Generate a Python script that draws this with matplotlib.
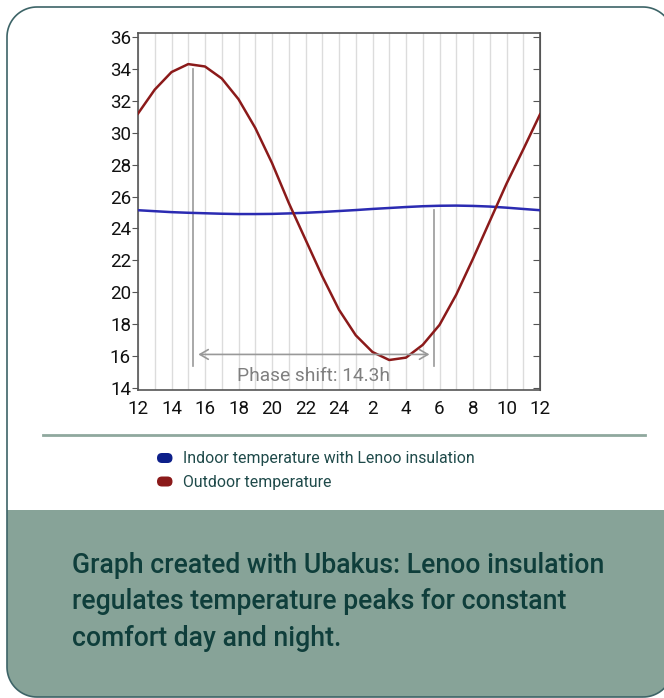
import numpy as np
import matplotlib.pyplot as plt
from matplotlib.patches import FancyBboxPatch, Rectangle, Polygon
from matplotlib.lines import Line2D

# hourly values, hour 0 = 12:00 noon
hours = list(range(25))
outdoor = [31.2, 32.7, 33.8, 34.3, 34.15, 33.4, 32.1, 30.3, 28.1, 25.6, 23.3, 21.0, 18.9,
           17.3, 16.25, 15.75, 15.9, 16.7, 17.95, 19.85, 22.1, 24.45, 26.8, 28.95, 31.15]
indoor = [25.14, 25.08, 25.02, 24.98, 24.95, 24.92, 24.90, 24.90, 24.91, 24.94, 24.98, 25.03, 25.09,
          25.15, 25.22, 25.28, 25.34, 25.39, 25.42, 25.43, 25.41, 25.37, 25.30, 25.22, 25.14]
series_names = ['Indoor temperature with Lenoo insulation', 'Outdoor temperature']
xtick_pos = list(range(0, 25, 2))
xtick_labels = ['12', '14', '16', '18', '20', '22', '24', '2', '4', '6', '8', '10', '12']
yticks = list(range(14, 37, 2))
phase_start = 3.3   # outdoor peak
phase_end = 17.65   # indoor peak
phase_label = 'Phase shift: 14.3h'
caption = ('Graph created with Ubakus: Lenoo insulation\n'
           'regulates temperature peaks for constant\n'
           'comfort day and night.')

W, H = 664, 698
fig = plt.figure(figsize=(W / 100, H / 100), dpi=100)
plt.rcParams['font.family'] = ['Roboto', 'DejaVu Sans']

def px(x, y):
    # pixel (top-left origin) -> inches for dpi_scale_trans
    return x / 100, (H - y) / 100

def rounded_rect(x0, y0, w, h, r, n=24):
    # outline as line segments; agg mangles bezier corners clipped at canvas edge
    pts = []
    corners = [(x0 + w - r, y0 + r, -90), (x0 + w - r, y0 + h - r, 0),
               (x0 + r, y0 + h - r, 90), (x0 + r, y0 + r, 180)]
    for cx, cy, a0 in corners:
        a = np.radians(np.linspace(a0, a0 + 90, n))
        pts += list(zip(cx + r * np.cos(a), cy + r * np.sin(a)))
    return pts

tr = fig.dpi_scale_trans
outline = rounded_rect(0.07, 0.01, 6.66, 6.90, 0.30)
card = Polygon(outline, closed=True, transform=tr, facecolor='white', edgecolor='none',
               zorder=-2)
fig.patches.append(card)
green = Rectangle(px(0, 698), 7.0, 1.88, transform=tr, facecolor='#87a398',
                  edgecolor='none', zorder=-1)
green.set_clip_path(card)
fig.patches.append(green)
card_edge = Polygon(outline, closed=True, transform=tr, fill=False,
                    edgecolor='#3d6467', lw=1.2, zorder=2)
fig.patches.append(card_edge)
fig.lines.append(Line2D([0.43, 6.45], [(H - 435) / 100] * 2, transform=tr,
                        color='#8fa89e', lw=2, zorder=2))

# chart
ax = fig.add_axes([138 / W, 1 - 390 / H, (540 - 138) / W, (390 - 33) / H])
ax.plot(hours, indoor, color='#2b2bb2', lw=1.8, zorder=3)
ax.plot(hours, outdoor, color='#8b1a1a', lw=1.8, zorder=3)

for h in hours:
    ax.axvline(h, color='#dcdcdc', lw=1, zorder=0)

ax.plot([phase_start, phase_start], [15.4, 34.0], color='#999999', lw=1.2, zorder=2)
ax.plot([phase_end, phase_end], [15.4, 25.16], color='#999999', lw=1.2, zorder=2)
ax.annotate('', xy=(phase_start + 0.3, 16.1), xytext=(phase_end - 0.25, 16.1),
            arrowprops=dict(arrowstyle='<->,head_length=0.6,head_width=0.35',
                            color='#999999', lw=1.2, shrinkA=0, shrinkB=0))
ax.text((phase_start + phase_end) / 2, 14.75, phase_label, ha='center', va='center',
        fontsize=13.8, color='#7f7f7f')

ax.set_xlim(0, 24)
ax.set_ylim(13.87, 36.25)
ax.set_xticks(xtick_pos)
ax.set_xticklabels(xtick_labels)
ax.set_yticks(yticks)
ax.tick_params(axis='x', length=0, labelsize=13.5, pad=7, labelcolor='#111111')
ax.tick_params(axis='y', direction='out', length=4, labelsize=13.5, pad=1, color='#555555',
               labelcolor='#111111')
ax2 = ax.secondary_yaxis('right')
ax2.set_yticks(yticks)
ax2.tick_params(direction='in', length=5, labelright=False, color='#555555')
ax2.spines['right'].set_color('#555555')
for s in ax.spines.values():
    s.set_color('#555555')
    s.set_linewidth(1.2)

# legend
colors = ['#0d1f8a', '#8b1a1a']
for i, (name, c) in enumerate(zip(series_names, colors)):
    yc = 458 + i * 23.5
    pill = FancyBboxPatch(px(157, yc + 5), 0.155, 0.10,
                          boxstyle='round,pad=0,rounding_size=0.05', transform=tr,
                          facecolor=c, edgecolor='none', zorder=3)
    fig.patches.append(pill)
    fig.text(183 / W, 1 - (yc + 1) / H, name, ha='left', va='center', fontsize=11.4,
             color='#1f4a4a')

fig.text(72 / W, 1 - 552 / H, caption, ha='left', va='top', fontsize=19.2,
         fontweight='medium', color='#0f3e3b', linespacing=1.45)

fig.savefig('out.png', dpi=100)
